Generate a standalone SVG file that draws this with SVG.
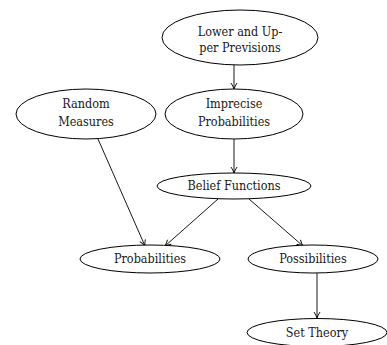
<svg xmlns="http://www.w3.org/2000/svg" width="387" height="345" viewBox="0 0 387 345">
<defs>
<style>
.n{fill:#fff;stroke:#000;stroke-width:1}
.t{font-family:"DejaVu Serif Condensed","DejaVu Serif",serif;font-stretch:condensed;font-size:12.5px;fill:#1a1a1a;text-anchor:middle}
.e{fill:none;stroke:#000;stroke-width:0.9;marker-end:url(#a)}
</style>
<marker id="a" viewBox="0 0 8 8" refX="7" refY="4" markerWidth="8" markerHeight="8" markerUnits="userSpaceOnUse" orient="auto">
<path d="M1,1 Q4,3 7,4 Q4,5 1,7" fill="none" stroke="#000" stroke-width="0.9"/>
</marker>
</defs>
<rect width="387" height="345" fill="#fff"/>
<g id="edges">
<line class="e" x1="234" y1="65" x2="234" y2="89"/>
<line class="e" x1="234" y1="139" x2="234" y2="173"/>
<line class="e" x1="98" y1="139" x2="145" y2="246"/>
<line class="e" x1="218" y1="199" x2="165" y2="246"/>
<line class="e" x1="249" y1="199" x2="303" y2="246"/>
<line class="e" x1="317" y1="273" x2="317" y2="318"/>
</g>
<g id="lower">
<ellipse class="n" cx="240" cy="37.5" rx="78" ry="27.5"/>
<text class="t" x="240" y="36">Lower and Up-</text>
<text class="t" x="240" y="52">per Previsions</text>
</g>
<g id="random">
<ellipse class="n" cx="86" cy="114" rx="70" ry="25"/>
<text class="t" x="86" y="108">Random</text>
<text class="t" x="86" y="126">Measures</text>
</g>
<g id="imprecise">
<ellipse class="n" cx="234" cy="114" rx="69" ry="25"/>
<text class="t" x="234" y="108">Imprecise</text>
<text class="t" x="234" y="126">Probabilities</text>
</g>
<g id="belief">
<ellipse class="n" cx="234" cy="186" rx="77" ry="13"/>
<text class="t" x="234" y="190">Belief Functions</text>
</g>
<g id="probabilities">
<ellipse class="n" cx="150" cy="259" rx="70" ry="14"/>
<text class="t" x="150" y="263">Probabilities</text>
</g>
<g id="possibilities">
<ellipse class="n" cx="313" cy="259" rx="65" ry="14"/>
<text class="t" x="313" y="263">Possibilities</text>
</g>
<g id="settheory">
<ellipse class="n" cx="317" cy="332.5" rx="70" ry="14"/>
<text class="t" x="317" y="337">Set Theory</text>
</g>
</svg>
